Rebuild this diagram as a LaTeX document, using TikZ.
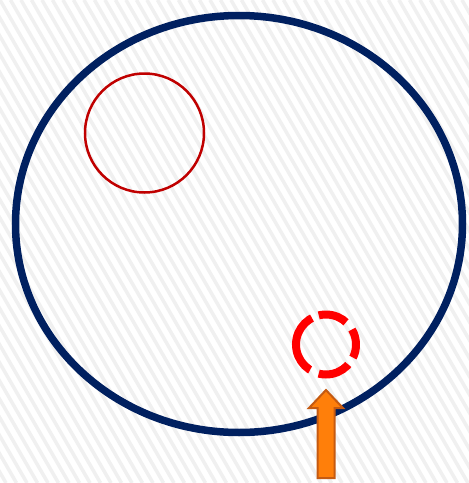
\documentclass[tikz,border=0pt]{standalone}
\usetikzlibrary{shapes.geometric}
\definecolor{navy}{HTML}{002060}
\definecolor{darkred}{HTML}{C00000}
\definecolor{brightred}{HTML}{FF0000}
\definecolor{orangefill}{HTML}{FF7F0A}
\definecolor{orangeline}{HTML}{C55A11}
\definecolor{stripegray}{HTML}{F0F0F0}
\tikzset{
  stripe/.style={draw=stripegray, line width=3.5pt},
  bigring/.style={draw=navy, line width=7.5pt, ellipse, inner sep=0pt, minimum width=447pt, minimum height=417pt},
  redring/.style={draw=darkred, line width=2.5pt, circle, inner sep=0pt, minimum size=119pt},
  dashring/.style={draw=brightred, line width=8pt, circle, inner sep=0pt, minimum size=60pt,
    dash pattern=on 15.7pt off 9.4pt on 29.3pt off 7.3pt on 62.8pt off 9.4pt on 32.5pt off 8.4pt on 13.6pt off 0pt},
  uparrow/.style={fill=orangefill, draw=orangeline, line width=2pt, line join=miter}
}
\begin{document}
\begin{tikzpicture}[x=1pt,y=-1pt]
\useasboundingbox (0,0) rectangle (469,483);
\fill[white] (0,0) rectangle (469,483);
\begin{scope}
\clip (0,0) rectangle (469,483);
\foreach \i in {-30,...,48} \draw[stripe] (\i*10.5,0) -- ++(279,483);
\end{scope}
\node[bigring] (outer) at (239,224) {};
\node[redring] (small) at (144.5,133) {};
\node[dashring] (dashed) at (326,344.5) {};
\coordinate (a1) at (317.5,478);
\coordinate (a2) at (317.5,408);
\coordinate (a3) at (309,408);
\coordinate (tip) at (326,390);
\coordinate (a5) at (343,408);
\coordinate (a6) at (334.5,408);
\coordinate (a7) at (334.5,478);
\draw[uparrow] (a1) -- (a2) -- (a3) -- (tip) -- (a5) -- (a6) -- (a7) -- cycle;
\end{tikzpicture}
\end{document}
